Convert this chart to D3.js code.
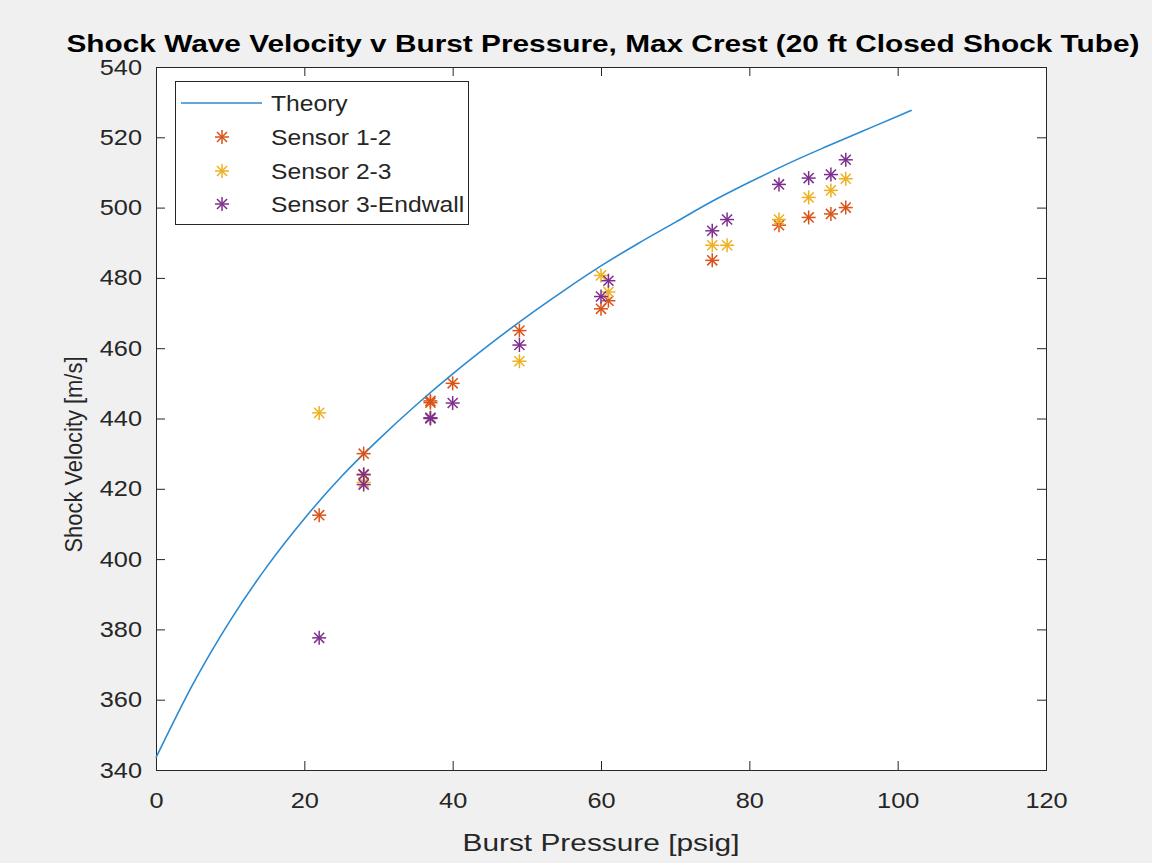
<!DOCTYPE html>
<html><head><meta charset="utf-8">
<script src="https://cdn.jsdelivr.net/npm/d3@7"></script>
<style>
html,body{margin:0;padding:0;background:#f0f0f0;}
svg{display:block;}
text{font-family:"Liberation Sans",Arial,sans-serif;}
</style></head>
<body>
<svg id="chart" width="1152" height="863"></svg>
<script>
// Theory curve
const theoryP = [0, 5, 10, 15, 20, 25, 30, 35, 40, 45, 50, 55, 60, 65, 70, 75, 80, 85, 90, 95, 100, 101.9];
const theoryV = [343.5, 364.5, 382.5, 398, 411.5, 423.5, 434, 443.7, 452.7, 461.1, 469, 476.4, 483.4, 489.8, 495.8, 501.8, 507.2, 512.3, 517, 521.5, 526, 527.7];

// Sensor 1-2
const s12P = [22, 28, 28, 37, 37, 40, 49, 60, 61, 75, 84, 88, 91, 93];
const s12V = [412.5, 430, 424, 445, 444.5, 450, 465, 471.2, 473.5, 485, 495, 497.2, 498.2, 500];
// Sensor 2-3
const s23P = [22, 28, 28, 37, 49, 60, 61, 75, 77, 84, 88, 91, 93];
const s23V = [441.6, 424, 421.8, 440.2, 456.3, 480.7, 476, 489.3, 489.3, 496.6, 502.9, 504.9, 508.2];
// Sensor 3-Endwall
const s3EP = [22, 28, 28, 37, 37, 40, 49, 60, 61, 75, 77, 84, 88, 91, 93];
const s3EV = [377.6, 424.1, 421.2, 440.2, 440, 444.4, 460.9, 474.7, 479.2, 493.4, 496.6, 506.6, 508.4, 509.4, 513.6];

const xTicks = [0, 20, 40, 60, 80, 100, 120];
const yTicks = [340, 360, 380, 400, 420, 440, 460, 480, 500, 520, 540];

const title = "Shock Wave Velocity v Burst Pressure, Max Crest (20 ft Closed Shock Tube)";
const xLabel = "Burst Pressure [psig]";
const yLabel = "Shock Velocity [m/s]";
const seriesNames = ["Theory", "Sensor 1-2", "Sensor 2-3", "Sensor 3-Endwall"];
const colors = ["#2a8ad2", "#D95319", "#EDB120", "#7E2F8E"];

const svg = d3.select("#chart");
const L = 156, R = 1046, T = 67, B = 770;
const x = d3.scaleLinear().domain([0, 120]).range([L, R]);
const y = d3.scaleLinear().domain([340, 540]).range([B, T]);
const axisColor = "#262626";

function stretch(sel, f) {
  sel.each(function () {
    const w = this.getComputedTextLength();
    d3.select(this).attr("textLength", w * f).attr("lengthAdjust", "spacingAndGlyphs");
  });
}

// plot background
svg.append("rect").attr("x", L).attr("y", T).attr("width", R - L).attr("height", B - T).attr("fill", "#fff");

// axes
const tickLen = 9;
const gx = svg.append("g").attr("transform", `translate(0,${B})`)
  .call(d3.axisBottom(x).tickValues(xTicks).tickSize(-tickLen).tickPadding(22).tickFormat(d3.format("d")));
const gxt = svg.append("g").attr("transform", `translate(0,${T})`)
  .call(d3.axisTop(x).tickValues(xTicks).tickSize(-tickLen).tickFormat(""));
const gy = svg.append("g").attr("transform", `translate(${L},0)`)
  .call(d3.axisLeft(y).tickValues(yTicks).tickSize(-tickLen).tickPadding(14).tickFormat(d3.format("d")));
const gyr = svg.append("g").attr("transform", `translate(${R},0)`)
  .call(d3.axisRight(y).tickValues(yTicks).tickSize(-tickLen).tickFormat(""));
[gx, gxt, gy, gyr].forEach(g => {
  g.selectAll(".domain").attr("stroke", axisColor).attr("stroke-width", 1);
  g.selectAll(".tick line").attr("stroke", axisColor).attr("stroke-width", 1);
  g.selectAll(".tick text").attr("fill", axisColor).style("font-size", "22px").attr("font-family", null);
});
stretch(gx.selectAll(".tick text"), 1.15);
stretch(gy.selectAll(".tick text"), 1.15);

// theory line
const theory = theoryP.map((p, i) => [p, theoryV[i]]);
svg.append("path").datum(theory)
  .attr("fill", "none").attr("stroke", colors[0]).attr("stroke-width", 1.6)
  .attr("d", d3.line().x(d => x(d[0])).y(d => y(d[1])).curve(d3.curveMonotoneX));

// asterisk marker
function star(g, cx, cy, color) {
  const r = 7, d = r * 0.72;
  const s = g.append("g").attr("transform", `translate(${cx},${cy})`)
    .attr("stroke", color).attr("stroke-width", 1.5).attr("stroke-linecap", "butt");
  s.append("line").attr("x1", -r).attr("x2", r).attr("y1", 0).attr("y2", 0);
  s.append("line").attr("y1", -r).attr("y2", r).attr("x1", 0).attr("x2", 0);
  s.append("line").attr("x1", -d).attr("y1", -d).attr("x2", d).attr("y2", d);
  s.append("line").attr("x1", -d).attr("y1", d).attr("x2", d).attr("y2", -d);
}
const sensorSets = [[s12P, s12V], [s23P, s23V], [s3EP, s3EV]];
sensorSets.forEach(([P, V], k) => {
  const g = svg.append("g");
  P.forEach((p, i) => star(g, x(p), y(V[i]), colors[k + 1]));
});

// legend
const lg = svg.append("g");
lg.append("rect").attr("x", 175.5).attr("y", 81.5).attr("width", 293).attr("height", 143)
  .attr("fill", "#fff").attr("stroke", axisColor).attr("stroke-width", 1);
const rowY = [103, 137, 171, 204];
seriesNames.forEach((n, i) => {
  if (i === 0) {
    lg.append("line").attr("x1", 181).attr("x2", 262).attr("y1", rowY[i]).attr("y2", rowY[i])
      .attr("stroke", colors[0]).attr("stroke-width", 1.6);
  } else {
    star(lg, 222, rowY[i], colors[i]);
  }
  lg.append("text").attr("x", 271).attr("y", rowY[i]).attr("dy", "0.36em")
    .attr("fill", axisColor).style("font-size", "22px").text(n);
});
stretch(lg.selectAll("text"), 1.12);

// title & labels
svg.append("text").attr("x", 603).attr("y", 52).attr("text-anchor", "middle")
  .style("font-size", "23px").style("font-weight", "bold").attr("fill", "#000")
  .attr("textLength", 1073).attr("lengthAdjust", "spacingAndGlyphs").text(title);
svg.append("text").attr("x", 601).attr("y", 851).attr("text-anchor", "middle")
  .style("font-size", "24px").attr("fill", axisColor)
  .attr("textLength", 277).attr("lengthAdjust", "spacingAndGlyphs").text(xLabel);
svg.append("text").attr("transform", `translate(82,${(T + B) / 2 + 36}) rotate(-90)`).attr("text-anchor", "middle")
  .style("font-size", "23px").attr("fill", axisColor)
  .attr("textLength", 196).attr("lengthAdjust", "spacingAndGlyphs").text(yLabel);
</script>
</body></html>
